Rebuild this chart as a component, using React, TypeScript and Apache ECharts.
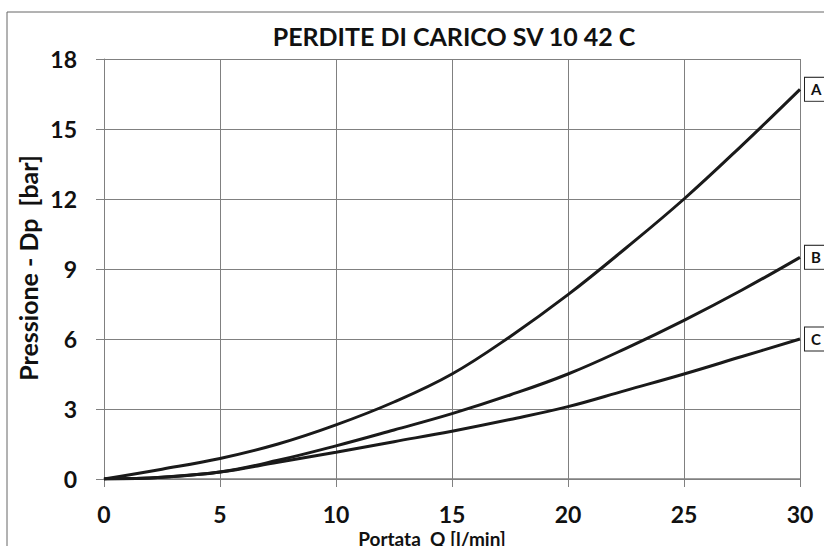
import React, { useEffect, useRef } from "react";
import * as echarts from "echarts";

const flowQ = [0, 2.5, 5, 7.5, 10, 12.5, 15, 17.5, 20, 22.5, 25, 27.5, 30];
const curveA = [0, 0.42, 0.88, 1.5, 2.32, 3.3, 4.5, 6.1, 7.9, 9.9, 12.0, 14.3, 16.7];
const curveB = [0, 0.08, 0.3, 0.8, 1.42, 2.1, 2.8, 3.6, 4.5, 5.6, 6.8, 8.1, 9.5];
const curveC = [0, 0.08, 0.3, 0.72, 1.15, 1.6, 2.05, 2.55, 3.1, 3.8, 4.5, 5.25, 6.0];
const seriesNames = ["A", "B", "C"];
const xTicks = { min: 0, max: 30, interval: 5 };
const yTicks = { min: 0, max: 18, interval: 3 };

const FONT = "Lato";

export default function App() {
  const ref = useRef<HTMLDivElement>(null);
  useEffect(() => {
    if (!ref.current) return;
    const chart = echarts.init(ref.current, null, { renderer: "svg" });
    const values = [curveA, curveB, curveC];
    chart.setOption({
      animation: false,
      backgroundColor: "#ffffff",
      grid: { left: 104, top: 59, right: 24, bottom: 67, containLabel: false },
      graphic: [
        {
          type: "rect",
          shape: { x: 7, y: 12, width: 840, height: 560 },
          style: { fill: "none", stroke: "#666", lineWidth: 1 },
          silent: true,
        },
        {
          type: "text",
          x: 454,
          y: 36,
          style: {
            text: "PERDITE DI CARICO SV 10 42 C",
            font: `bold 25px ${FONT}`,
            fill: "#111",
            align: "center",
            verticalAlign: "middle",
          },
        },
        {
          type: "text",
          x: 432,
          y: 538,
          style: {
            text: "Portata  Q [l/min]",
            font: `bold 19px ${FONT}`,
            fill: "#111",
            align: "center",
            verticalAlign: "middle",
          },
        },
        {
          type: "text",
          x: 28,
          y: 268,
          rotation: Math.PI / 2,
          style: {
            text: "Pressione - Dp  [bar]",
            font: `bold 25px ${FONT}`,
            fill: "#111",
            align: "center",
            verticalAlign: "middle",
          },
        },
      ],
      xAxis: {
        type: "value",
        min: xTicks.min,
        max: xTicks.max,
        interval: xTicks.interval,
        axisLine: { show: true, lineStyle: { color: "#808080", width: 1.5 } },
        axisTick: { show: true, length: 8, lineStyle: { color: "#808080", width: 1 } },
        axisLabel: {
          margin: 23,
          color: "#111",
          fontFamily: FONT,
          fontWeight: "bold",
          fontSize: 23,
        },
        splitLine: { show: true, lineStyle: { color: "#808080", width: 1 } },
      },
      yAxis: {
        type: "value",
        min: yTicks.min,
        max: yTicks.max,
        interval: yTicks.interval,
        axisLine: { show: true, lineStyle: { color: "#808080", width: 1 } },
        axisTick: { show: true, length: 8, lineStyle: { color: "#808080", width: 1 } },
        axisLabel: {
          margin: 27,
          color: "#111",
          fontFamily: FONT,
          fontWeight: "bold",
          fontSize: 23,
        },
        splitLine: { show: true, lineStyle: { color: "#808080", width: 1 } },
      },
      series: seriesNames.map((name, i) => ({
        name,
        type: "line",
        smooth: 0.4,
        symbol: "none",
        data: flowQ.map((q, j) => [q, values[i][j]]),
        lineStyle: { color: "#1a1a1a", width: 3 },
        endLabel: {
          show: true,
          formatter: name,
          distance: 5,
          color: "#111",
          fontFamily: FONT,
          fontWeight: "bold",
          fontSize: 15,
          lineHeight: 16,
          padding: [4, 6, 3, 6],
          borderColor: "#222",
          borderWidth: 1,
          backgroundColor: "#fff",
        },
      })),
    });
    return () => chart.dispose();
  }, []);
  return (
    <div
      ref={ref}
      style={{ position: "fixed", left: 0, top: 0, width: 824, height: 546 }}
    />
  );
}
